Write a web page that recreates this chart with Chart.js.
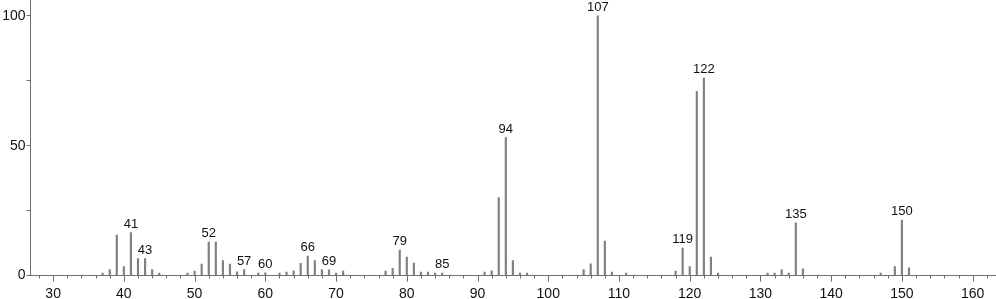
<!DOCTYPE html>
<html>
<head>
<meta charset="utf-8">
<script src="https://cdn.jsdelivr.net/npm/chart.js@4.4.1/dist/chart.umd.min.js"></script>
<style>
  html, body { margin: 0; padding: 0; background: #fff; }
  #wrap { width: 996px; height: 299px; }
</style>
</head>
<body>
<div id="wrap"><canvas id="spec"></canvas></div>
<script>
// m/z values and relative intensities
const masses = [37, 38, 39, 40, 41, 42, 43, 44, 45, 49, 50, 51, 52, 53, 54, 55, 56, 57, 59, 60,
    62, 63, 64, 65, 66, 67, 68, 69, 70, 71, 77, 78, 79, 80, 81, 82, 83, 84, 85,
    91, 92, 93, 94, 95, 96, 97, 105, 106, 107, 108, 109, 111, 118, 119, 120, 121, 122, 123, 124,
    131, 132, 133, 134, 135, 136, 147, 149, 150, 151];
const intensities = [0.9, 2.3, 15.6, 3.4, 16.5, 6.5, 6.5, 2.3, 0.9, 0.9, 1.7, 4.4, 12.9, 12.9, 5.7, 4.4, 1.4, 2.3, 0.9, 1.0,
    0.9, 1.3, 1.8, 4.7, 7.5, 5.7, 2.3, 2.2, 0.9, 1.7, 1.7, 2.8, 9.8, 7.1, 4.8, 1.3, 1.3, 0.9, 0.9,
    1.3, 1.8, 30.0, 53.1, 5.7, 0.9, 0.9, 2.3, 4.5, 100, 13.3, 1.3, 0.9, 1.7, 10.6, 3.4, 70.9, 76.0, 7.1, 0.9,
    0.9, 0.9, 2.3, 0.9, 20.3, 2.6, 0.9, 3.4, 21.3, 3.0];
const labelledPeaks = [41, 43, 52, 57, 60, 66, 69, 79, 85, 94, 107, 119, 122, 135, 150];
const xTicks = [];
for (let v = 28; v <= 162; v += 2) xTicks.push(v);
const yTicks = [0, 25, 50, 75, 100];
const yTickLabels = ['0', '', '50', '', '100'];

const axisColor = '#6e6e6e';
const fontFamily = '"Liberation Sans", Arial, sans-serif';

// draw x ticks (short minor, long major) and the peak labels
const spectrumExtras = {
    id: 'spectrumExtras',
    afterDraw(chart) {
        const ctx = chart.ctx;
        const xs = chart.scales.x;
        const ys = chart.scales.y;
        const base = chart.chartArea.bottom;
        ctx.save();
        ctx.strokeStyle = axisColor;
        ctx.lineWidth = 1;
        xTicks.forEach(v => {
            const px = Math.round(xs.getPixelForValue(v)) + 0.5;
            const len = v % 10 === 0 ? 6 : 3;
            ctx.beginPath();
            ctx.moveTo(px, base);
            ctx.lineTo(px, base + len);
            ctx.stroke();
        });
        ctx.fillStyle = '#111';
        ctx.font = '13px ' + fontFamily;
        ctx.textAlign = 'center';
        ctx.textBaseline = 'bottom';
        labelledPeaks.forEach(m => {
            const i = masses.indexOf(m);
            const px = xs.getPixelForValue(m);
            const py = ys.getPixelForValue(intensities[i]);
            ctx.fillText(String(m), px, py - 2);
        });
        ctx.restore();
    }
};

const ctx = document.getElementById('spec').getContext('2d');
const chart = new Chart(ctx, {
    type: 'bar',
    data: {
        datasets: [{
            data: masses.map((m, i) => ({ x: m, y: intensities[i] })),
            backgroundColor: '#808080',
            barThickness: 1.5,
            borderWidth: 0
        }]
    },
    options: {
        responsive: true,
        maintainAspectRatio: false,
        animation: false,
        layout: { padding: 0 },
        plugins: { legend: { display: false }, tooltip: { enabled: false } },
        scales: {
            x: {
                type: 'linear',
                min: 26.8,
                max: 163.3,
                offset: false,
                afterBuildTicks: s => { s.ticks = xTicks.map(v => ({ value: v })); },
                afterFit: s => { s.height = 23.5; s.paddingLeft = 0; s.paddingRight = 0; },
                grid: { drawOnChartArea: false, drawTicks: false },
                border: { color: axisColor, width: 1 },
                ticks: {
                    padding: 10,
                    maxRotation: 0,
                    autoSkip: false,
                    color: '#111',
                    font: { family: fontFamily, size: 14 },
                    callback: v => (v % 10 === 0 ? String(v) : '')
                }
            },
            y: {
                min: 0,
                max: 106.1,
                afterBuildTicks: s => { s.ticks = yTicks.map(v => ({ value: v })); },
                afterFit: s => { s.width = 30.5; s.paddingTop = 0; s.paddingBottom = 0; },
                grid: { drawOnChartArea: false, drawTicks: true, tickLength: 4, color: axisColor },
                border: { color: axisColor, width: 1 },
                ticks: {
                    padding: 1,
                    color: '#111',
                    font: { family: fontFamily, size: 14 },
                    callback: (v, i) => yTickLabels[yTicks.indexOf(v)]
                }
            }
        }
    },
    plugins: [spectrumExtras]
});
</script>
</body>
</html>
